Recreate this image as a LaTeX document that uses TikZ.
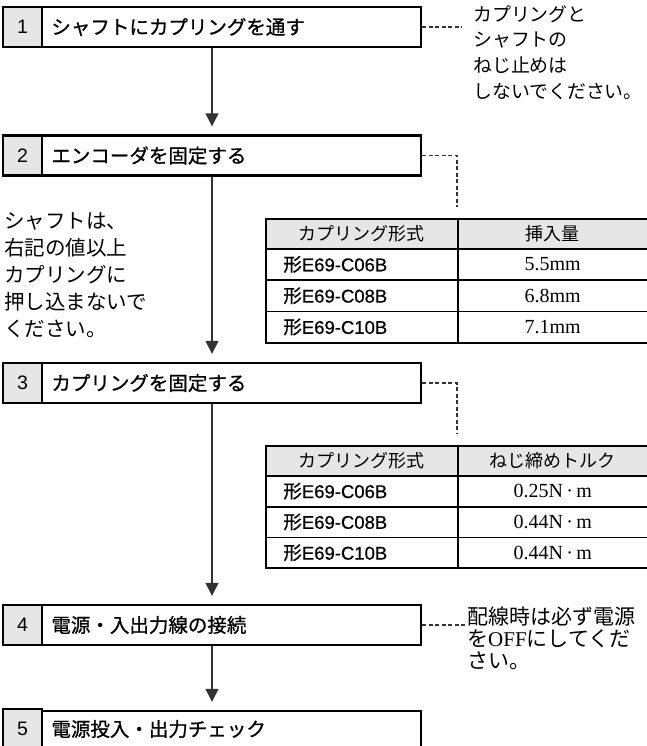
\documentclass[tikz,border=0pt]{standalone}
\usepackage{fontspec}
\setmainfont{Noto Sans CJK JP}
\newfontfamily\stepfont[FakeBold=0.8]{Noto Sans CJK JP}
\newfontfamily\numfont{Liberation Sans}
\newfontfamily\latfont[FakeBold=0.5]{Liberation Sans}
\newfontfamily\valfont{Liberation Serif}
\usetikzlibrary{arrows.meta}
\definecolor{cellgray}{HTML}{E6E6E6}
\definecolor{linegray}{HTML}{333333}
\newcommand{\modelname}[1]{{\stepfont 形}{\latfont #1}}
\begin{document}
\begin{tikzpicture}[x=1pt,y=-1pt,
  stepbox/.style={draw=black,line width=2.4pt,minimum width=418pt,minimum height=40pt,inner sep=0pt},
  numcell/.style={draw=black,line width=2.4pt,fill=cellgray,minimum width=39pt,minimum height=40pt,inner sep=0pt,anchor=west,font=\numfont\fontsize{19.5}{20}\selectfont},
  steptext/.style={anchor=west,inner sep=0pt,font=\stepfont\fontsize{19.5}{20}\selectfont},
  flow/.style={draw=linegray,line width=1.3pt,-{Triangle[length=13pt,width=13pt]},shorten >=8pt},
  hint/.style={draw=linegray,line width=1.1pt,dash pattern=on 4pt off 2.5pt},
  notetext/.style={anchor=north west,inner sep=0pt,align=left},
  tcell/.style={draw=black,line width=0.8pt,inner sep=0pt,anchor=north west},
  headcell/.style={tcell,fill=cellgray,minimum height=29pt,font=\fontsize{18}{18}\selectfont},
  colA/.style={minimum width=191pt},
  colB/.style={minimum width=189pt},
  namecell/.style={tcell,text width=157pt,inner xsep=17pt,align=left,font=\fontsize{18.5}{19}\selectfont},
  valcell/.style={tcell,colB,font=\valfont\fontsize{20}{20}\selectfont},
  frame/.style={draw=black,line width=2pt}
]
\fill[white] (0,0) rectangle (647,746);
\useasboundingbox (0,0) rectangle (647,746);

% steps
\node[stepbox] (b1) at (212,27) {};
\node[numcell] (n1) at (b1.west) {1};
\node[steptext] (l1) at ([xshift=8pt]n1.east) {シャフトにカプリングを通す};

\node[stepbox] (b2) at (212,155.5) {};
\node[numcell] (n2) at (b2.west) {2};
\node[steptext] (l2) at ([xshift=8pt]n2.east) {エンコーダを固定する};

\node[stepbox] (b3) at (212,383) {};
\node[numcell] (n3) at (b3.west) {3};
\node[steptext] (l3) at ([xshift=8pt]n3.east) {カプリングを固定する};

\node[stepbox] (b4) at (212,625) {};
\node[numcell] (n4) at (b4.west) {4};
\node[steptext] (l4) at ([xshift=8pt]n4.east) {電源・入出力線の接続};

\node[stepbox] (b5) at (212,731) {};
\node[numcell] (n5) at ([yshift=2pt]b5.west) {5};
\node[steptext] (l5) at ([xshift=8pt]n5.east) {電源投入・出力チェック};

% flow arrows
\draw[flow] (b1) -- (b2);
\draw[flow] (b2) -- (b3);
\draw[flow] (b3) -- (b4);
\draw[flow] (b4) -- (b5);

% table 1
\node[headcell,colA] (t1h1) at (266,219) {カプリング形式};
\node[headcell,colB] (t1h2) at (t1h1.north east) {挿入量};
\node[namecell,minimum height=30.5pt] (t1r1a) at (t1h1.south west) {\modelname{E69-C06B}};
\node[valcell,minimum height=30.5pt] (t1r1b) at (t1r1a.north east) {5.5mm};
\node[namecell,minimum height=30.5pt] (t1r2a) at (t1r1a.south west) {\modelname{E69-C08B}};
\node[valcell,minimum height=30.5pt] (t1r2b) at (t1r2a.north east) {6.8mm};
\node[namecell,minimum height=30.5pt] (t1r3a) at (t1r2a.south west) {\modelname{E69-C10B}};
\node[valcell,minimum height=30.5pt] (t1r3b) at (t1r3a.north east) {7.1mm};
\draw[line width=1.2pt] (t1h1.south west) -- (t1h2.south east);
\draw[frame] (t1h1.north west) rectangle (t1r3b.south east);

% table 2
\node[headcell,colA] (t2h1) at (266,446) {カプリング形式};
\node[headcell,colB] (t2h2) at (t2h1.north east) {ねじ締めトルク};
\node[namecell,minimum height=30pt] (t2r1a) at (t2h1.south west) {\modelname{E69-C06B}};
\node[valcell,minimum height=30pt] (t2r1b) at (t2r1a.north east) {0.25N\,·\,m};
\node[namecell,minimum height=30pt] (t2r2a) at (t2r1a.south west) {\modelname{E69-C08B}};
\node[valcell,minimum height=30pt] (t2r2b) at (t2r2a.north east) {0.44N\,·\,m};
\node[namecell,minimum height=30pt] (t2r3a) at (t2r2a.south west) {\modelname{E69-C10B}};
\node[valcell,minimum height=30pt] (t2r3b) at (t2r3a.north east) {0.44N\,·\,m};
\draw[line width=1.2pt] (t2h1.south west) -- (t2h2.south east);
\draw[frame] (t2h1.north west) rectangle (t2r3b.south east);

% dashed hints
\coordinate (c1) at (462,27);
\coordinate (c2) at (457,207);
\coordinate (c3) at (457,434);
\coordinate (c4) at (466,625);
\draw[hint] (b1.east) -- (c1);
\draw[hint] (b2.east) -| (c2);
\draw[hint] (b3.east) -| (c3);
\draw[hint] (b4.east) -- (c4);

% notes
\node[notetext,font=\fontsize{18.9}{25.7}\selectfont] (m1) at (473,5) {カプリングと\\シャフトの\\ねじ止めは\\しないでください。};
\node[notetext,font=\fontsize{20.5}{27}\selectfont] (m2) at (4,212) {シャフトは、\\右記の値以上\\カプリングに\\押し込まないで\\ください。};
\node[notetext,font=\fontsize{21}{22}\selectfont] (m3) at (467,607) {配線時は必ず電源\\を{\valfont OFF}にしてくだ\\さい。};
\end{tikzpicture}
\end{document}
